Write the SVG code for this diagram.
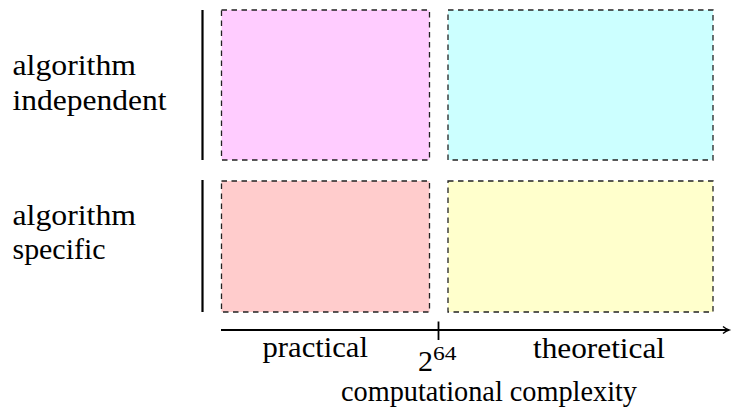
<svg xmlns="http://www.w3.org/2000/svg" width="733" height="412" viewBox="0 0 733 412">
  <style>
    .box { stroke: #222; stroke-width: 1.3; stroke-dasharray: 5.5 4.5; }
    .bar { stroke: #000; stroke-width: 2.2; fill: none; }
    text { font-family: 'Liberation Serif', 'Times New Roman', serif; fill: #000; }
    .lbl { font-size: 30px; }
    .sup { font-size: 19px; }
  </style>
  <defs>
    <marker id="arrow" markerWidth="10" markerHeight="10" refX="7" refY="5" orient="auto" markerUnits="userSpaceOnUse">
      <path d="M1,1.5 Q4,4 7,5 Q4,6 1,8.5" fill="none" stroke="#000" stroke-width="1.4"/>
    </marker>
  </defs>
  <rect width="733" height="412" fill="#fff"/>

  <g id="row-independent">
    <line class="bar" x1="202.5" y1="10" x2="202.5" y2="160"/>
    <text class="lbl" x="12.5" y="74.5" textLength="123.5" lengthAdjust="spacingAndGlyphs">algorithm</text>
    <text class="lbl" x="12.5" y="109.5" textLength="154" lengthAdjust="spacingAndGlyphs">independent</text>
  </g>
  <g id="row-specific">
    <line class="bar" x1="202.5" y1="180" x2="202.5" y2="312"/>
    <text class="lbl" x="12.5" y="224.5" textLength="123.5" lengthAdjust="spacingAndGlyphs">algorithm</text>
    <text class="lbl" x="12.5" y="259" textLength="93" lengthAdjust="spacingAndGlyphs">specific</text>
  </g>

  <g id="box-practical-independent">
    <rect class="box" x="221.5" y="10" width="208" height="150" fill="#FFCCFF"/>
  </g>
  <g id="box-theoretical-independent">
    <rect class="box" x="448" y="10" width="265" height="150" fill="#CCFFFF"/>
  </g>
  <g id="box-practical-specific">
    <rect class="box" x="221.5" y="181" width="208" height="131" fill="#FFCCCC"/>
  </g>
  <g id="box-theoretical-specific">
    <rect class="box" x="448" y="181" width="265" height="131" fill="#FFFFCC"/>
  </g>

  <g id="connectors">
    <line x1="221" y1="330" x2="729" y2="330" stroke="#000" stroke-width="2" marker-end="url(#arrow)"/>
    <line x1="438.5" y1="321.5" x2="438.5" y2="340" stroke="#000" stroke-width="1.8"/>
  </g>

  <g id="axis-labels">
    <text class="lbl" x="262.5" y="356.5" textLength="105.5" lengthAdjust="spacingAndGlyphs">practical</text>
    <text class="lbl" x="533" y="357.5" textLength="132" lengthAdjust="spacingAndGlyphs">theoretical</text>
    <text class="lbl" x="418" y="371">2</text>
    <text class="sup" x="433" y="360" textLength="23.5" lengthAdjust="spacingAndGlyphs">64</text>
    <text class="lbl" x="341" y="401" textLength="296" lengthAdjust="spacingAndGlyphs">computational complexity</text>
  </g>
</svg>
